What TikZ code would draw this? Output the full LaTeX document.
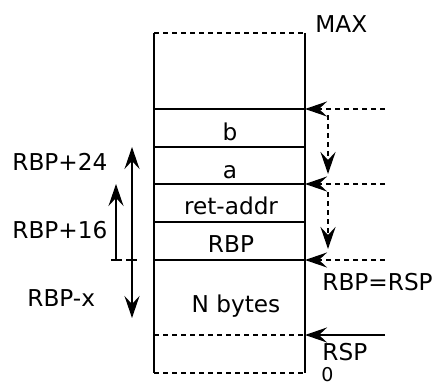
\documentclass[tikz,border=0pt]{standalone}
\usepackage{fontspec}
\setmainfont{DejaVu Sans}
\usetikzlibrary{arrows.meta}

\begin{document}
\begin{tikzpicture}[x=0.5pt,y=-0.5pt,
  frame/.style={line width=1.4pt},
  dots/.style={line width=1.2pt,dash pattern=on 2.5pt off 2pt},
  head/.tip={Stealth[length=11pt,width=7.5pt,inset=4pt]},
  tip/.style={-head},
  every node/.style={font=\fontsize{11.6}{13}\selectfont,inner sep=0pt}]
\useasboundingbox (0,0) rectangle (432,385);

% the stack
\draw[frame] (154,33)--(154,373);
\draw[frame] (305,33)--(305,373);
\draw[dots] (154,33)--(305,33);
\draw[dots] (154,335)--(305,335);
\draw[dots] (154,373)--(305,373);
\foreach \y in {109,147,184,222,260}
  \draw[frame] (154,\y)--(305,\y);

\node (b) [anchor=base] at (230,140) {b};
\node (a) [anchor=base] at (230,178) {a};
\node (ret) [anchor=base] at (231,214) {ret-addr};
\node (rbp) [anchor=base] at (231,252) {RBP};
\node (nbytes) [anchor=base] at (236,312) {N bytes};

\node (max) [anchor=base west] at (315,33) {MAX};
\node (rbprsp) [anchor=base west] at (322,290) {RBP=RSP};
\node (rsp) [anchor=base west] at (322,360) {RSP};
\node (zero) [anchor=base west,font=\fontsize{9.5}{11}\selectfont] at (321,381) {0};

% pointers on the right
\coordinate (p1) at (385,109); \coordinate (q1) at (305,109);
\coordinate (p2) at (385,184); \coordinate (q2) at (305,184);
\coordinate (p3) at (385,260); \coordinate (q3) at (305,260);
\coordinate (p4) at (385,335); \coordinate (q4) at (305,335);
\draw[dots,tip] (p1)--(q1);
\draw[dots,tip] (p2)--(q2);
\draw[dots,tip] (p3)--(q3);
\draw[line width=1.2pt,tip] (p4)--(q4);

\coordinate (d1) at (328,115); \coordinate (e1) at (328,174);
\coordinate (d2) at (328,192); \coordinate (e2) at (328,249);
\draw[dots,tip] (d1)--(e1);
\draw[dots,tip] (d2)--(e2);

% offsets on the left
\node (o24) [anchor=base west] at (12,170) {RBP+24};
\node (o16) [anchor=base west] at (12,238) {RBP+16};
\node (ox) [anchor=base west] at (27,306) {RBP-x};

\coordinate (l1) at (132,147); \coordinate (l2) at (132,318);
\coordinate (s1) at (116,260); \coordinate (s2) at (116,184);
\draw[line width=1pt,head-head] (l1)--(l2);
\draw[line width=1pt,tip] (s1)--(s2);
\draw[line width=1pt] (111,260)--(122,260);
\draw[line width=1pt] (126,260)--(137,260);

\end{tikzpicture}
\end{document}
